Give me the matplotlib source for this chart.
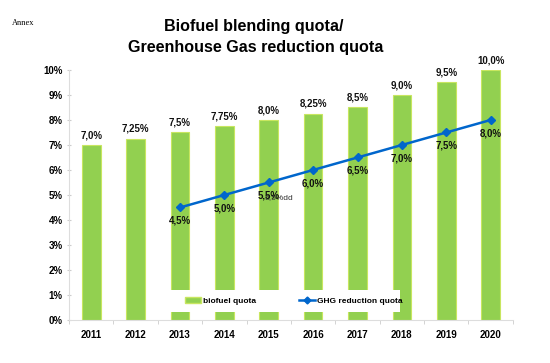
import matplotlib
matplotlib.use("Agg")
import matplotlib.pyplot as plt
from matplotlib.patches import Rectangle
from matplotlib.lines import Line2D
from matplotlib.patches import Patch

plt.rcParams['font.family'] = ['Liberation Sans', 'DejaVu Sans']

years = ['2011', '2012', '2013', '2014', '2015', '2016', '2017', '2018', '2019', '2020']
biofuel = [7.0, 7.25, 7.5, 7.75, 8.0, 8.25, 8.5, 9.0, 9.5, 10.0]
biofuel_labels = ['7,0%', '7,25%', '7,5%', '7,75%', '8,0%', '8,25%', '8,5%', '9,0%', '9,5%', '10,0%']
ghg_years = ['2013', '2014', '2015', '2016', '2017', '2018', '2019', '2020']
ghg = [4.5, 5.0, 5.5, 6.0, 6.5, 7.0, 7.5, 8.0]
ghg_labels = ['4,5%', '5,0%', '5,5%', '6,0%', '6,5%', '7,0%', '7,5%', '8,0%']
yticks = [0, 1, 2, 3, 4, 5, 6, 7, 8, 9, 10]
ytick_labels = ['0%', '1%', '2%', '3%', '4%', '5%', '6%', '7%', '8%', '9%', '10%']

green = '#92D050'
blue = '#0066CC'

fig = plt.figure(figsize=(5.5, 3.63), dpi=100)
ax = fig.add_axes([0.1255, 0.1185, 0.807, 0.6887])

x = list(range(len(years)))
ax.bar(x, biofuel, width=0.42, color=green, edgecolor='#C8E660', linewidth=0.8, zorder=2)
gx = [years.index(y) for y in ghg_years]
ax.plot(gx, ghg, color=blue, lw=1.8, marker='D', ms=4, zorder=4)

for xi, v, lab in zip(x, biofuel, biofuel_labels):
    ax.annotate(lab, (xi, v), xytext=(0, 3.5), textcoords='offset points',
                ha='center', va='bottom', fontsize=7, fontweight='bold', color='#111111')
for xi, v, lab in zip(gx, ghg, ghg_labels):
    ax.annotate(lab, (xi, v), xytext=(0, -6), textcoords='offset points',
                ha='center', va='top', fontsize=7, fontweight='bold', color='#111111', zorder=5)
# stray label artifact
ax.annotate('5,5%dd', (4, 5.5), xytext=(-3, -8), textcoords='offset points',
            ha='left', va='top', fontsize=6, color='#333333', zorder=4)

ax.set_xlim(-0.5, 9.5)
ax.set_ylim(0, 10)
ax.set_yticks(yticks)
ax.set_yticklabels(ytick_labels, fontsize=7, fontweight='bold')
ax.set_xticks(x)
ax.set_xticklabels(years, fontsize=7, fontweight='bold')
ax.set_xticks([i + 0.5 for i in range(-1, 10)], minor=True)
ax.tick_params(axis='x', which='major', length=0, pad=7)
ax.tick_params(axis='x', which='minor', length=3, color='#CCCCCC', direction='out')
ax.tick_params(axis='y', length=3, color='#CCCCCC', direction='inout', pad=3)
for s in ['top', 'right']:
    ax.spines[s].set_visible(False)
ax.spines['left'].set_color('#DDDDDD')
ax.spines['bottom'].set_color('#DDDDDD')
ax.spines['left'].set_linewidth(0.8)
ax.spines['bottom'].set_linewidth(0.8)

# legend background
ax.add_patch(Rectangle((0.216, 0.032), 0.53, 0.088, transform=ax.transAxes,
                       facecolor='white', edgecolor='none', zorder=3))
handles = [Patch(facecolor=green, edgecolor='#C8E660'),
           Line2D([], [], color=blue, lw=1.8, marker='D', ms=3.5)]
leg = ax.legend(handles, ['biofuel quota', 'GHG reduction quota'], ncol=2, frameon=False,
                loc='center left', bbox_to_anchor=(0.245, 0.076),
                handlelength=1.9, handletextpad=0.2, columnspacing=5.2,
                prop={'weight': 'bold', 'size': 6})
leg.set_zorder(6)

fig.text(0.462, 0.928, 'Biofuel blending quota/', ha='center', va='center',
         fontsize=11.6, fontweight='bold')
fig.text(0.464, 0.868, 'Greenhouse Gas reduction quota', ha='center', va='center',
         fontsize=11.6, fontweight='bold')
fig.text(0.022, 0.937, 'Annex', ha='left', va='center', fontsize=6,
         family=['Liberation Serif', 'DejaVu Serif'])

fig.savefig('out.png', dpi=100, facecolor='white')
